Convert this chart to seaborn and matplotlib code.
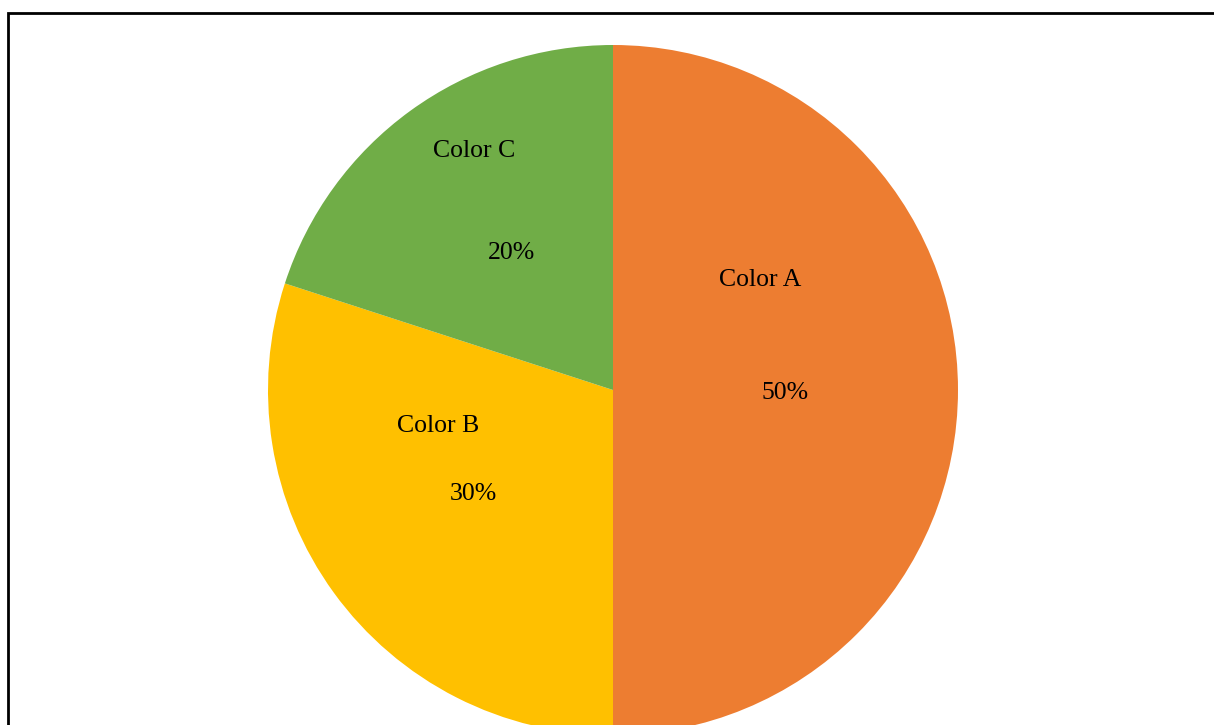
import matplotlib
matplotlib.use("Agg")
import matplotlib.pyplot as plt
import seaborn as sns
from matplotlib.patches import Rectangle

sns.set_theme(style="white")
plt.rcParams['font.family'] = ['Liberation Serif', 'DejaVu Serif']

categories = ["Color A", "Color B", "Color C"]
values = [50, 30, 20]
colors = ["#ED7D31", "#FFC000", "#70AD47"]
# manually placed category label positions (pie radius units)
label_pos = [(0.426, 0.318), (-0.507, -0.103), (-0.403, 0.694)]

W, H = 1214, 725
fig = plt.figure(figsize=(W / 100, H / 100), dpi=100)
fig.patch.set_facecolor("white")

cx, cy, r = 613, 390, 345
ax = fig.add_axes([(cx - r) / W, (H - cy - r) / H, 2 * r / W, 2 * r / H])
wedges, texts, autotexts = ax.pie(
    values, colors=colors, startangle=90, counterclock=False,
    autopct="%d%%", pctdistance=0.5, radius=1,
    wedgeprops=dict(linewidth=0), textprops=dict(fontsize=18.5, color="black"))
for t in autotexts:
    x, y = t.get_position()
    t.set_position((x, y - 0.008))
for (x, y), name in zip(label_pos, categories):
    ax.text(x, y, name, ha="center", va="center", fontsize=18.5, color="black")
ax.set_xlim(-1, 1)
ax.set_ylim(-1, 1)
ax.set_aspect("auto")
ax.axis("off")

border = Rectangle((8 / W, -0.1), 1.2, (H - 13.5) / H + 0.1, transform=fig.transFigure,
                   fill=False, edgecolor="black", linewidth=2, clip_on=False)
fig.patches.append(border)

fig.savefig("out.png", dpi=100)
